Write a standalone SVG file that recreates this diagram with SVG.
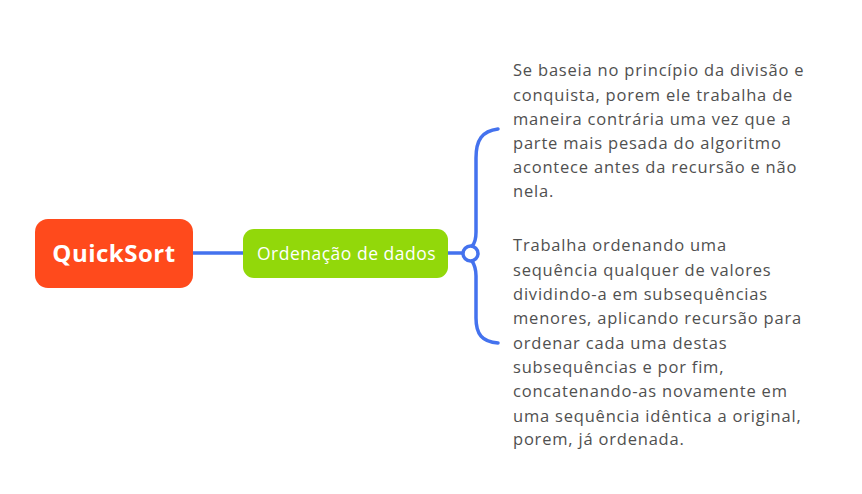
<svg xmlns="http://www.w3.org/2000/svg" width="862" height="494" viewBox="0 0 862 494">
<style>
.line{fill:none;stroke:#4472EE;stroke-width:3.5;stroke-linecap:round}
.note{font-family:"Open Sans",Lato,sans-serif;font-size:16.5px;letter-spacing:0.8px;fill:#505050}
</style>
<rect width="862" height="494" fill="#ffffff"/>
<g id="connectors">
<line class="line" x1="193" y1="253" x2="243" y2="253"/>
<line class="line" x1="448" y1="253" x2="463" y2="253"/>
<path class="line" d="M498 129 C482 131 476 140 476 158 L476 232 C476 240 474 244 472 246"/>
<path class="line" d="M472 261 C474 264 476 268 476 276 L476 318 C476 334 482 342 498 343"/>
<circle cx="470.5" cy="253.5" r="7.5" fill="#ffffff" stroke="#4472EE" stroke-width="3.5"/>
</g>
<g id="quicksort">
<rect x="35" y="219" width="158" height="69" rx="13" fill="#FF4A1C"/>
<text x="114" y="262" text-anchor="middle" font-family="'Open Sans',Lato,sans-serif" font-weight="bold" font-size="24" letter-spacing="0.5" fill="#ffffff">QuickSort</text>
</g>
<g id="ordenacao">
<rect x="243" y="229" width="205" height="49" rx="11" fill="#92D80A"/>
<text x="346.5" y="260" text-anchor="middle" font-family="'Open Sans',Lato,sans-serif" font-size="17.5" letter-spacing="0.5" fill="#ffffff">Ordenação de dados</text>
</g>
<g id="note1">
<text class="note" x="513"><tspan x="513" y="76">Se baseia no princípio da divisão e</tspan><tspan x="513" y="100.5">conquista, porem ele trabalha de</tspan><tspan x="513" y="125">maneira contrária uma vez que a</tspan><tspan x="513" y="149">parte mais pesada do algoritmo</tspan><tspan x="513" y="173">acontece antes da recursão e não</tspan><tspan x="513" y="197">nela.</tspan></text>
</g>
<g id="note2">
<text class="note" x="513"><tspan x="513" y="251">Trabalha ordenando uma</tspan><tspan x="513" y="275.5">sequência qualquer de valores</tspan><tspan x="513" y="300">dividindo-a em subsequências</tspan><tspan x="513" y="324">menores, aplicando recursão para</tspan><tspan x="513" y="348.5">ordenar cada uma destas</tspan><tspan x="513" y="373">subsequências e por fim,</tspan><tspan x="513" y="397">concatenando-as novamente em</tspan><tspan x="513" y="421.5">uma sequência idêntica a original,</tspan><tspan x="513" y="445">porem, já ordenada.</tspan></text>
</g>
</svg>
